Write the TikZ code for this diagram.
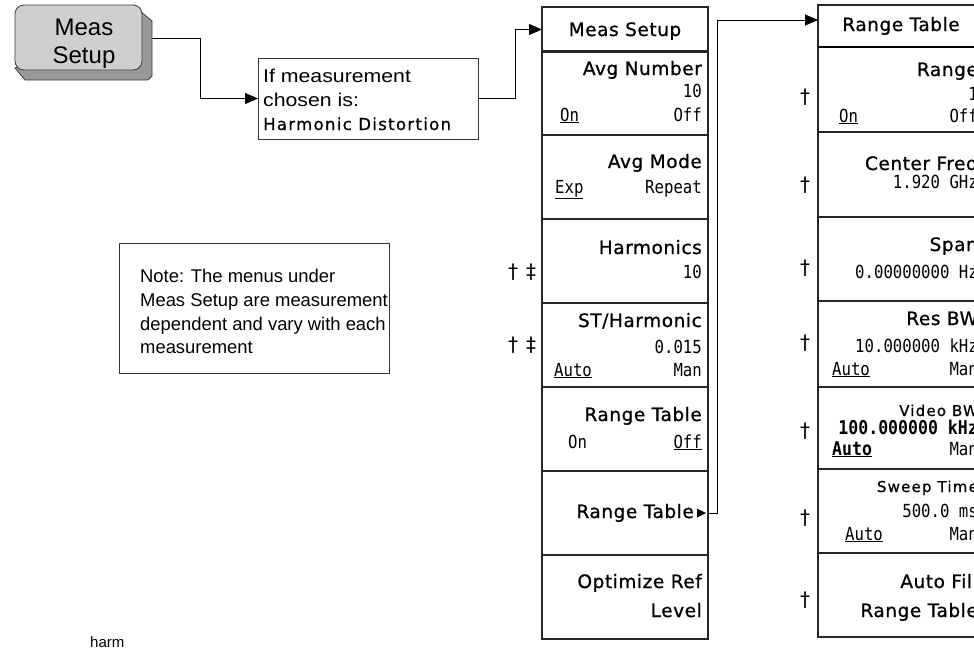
\documentclass[tikz,border=0pt]{standalone}
\usepackage{fontspec}
\setmainfont{Liberation Sans}
\newfontfamily\keyfont[LetterSpace=3,FakeBold=0.8]{DejaVu Sans}
\newfontfamily\keyfontW[LetterSpace=8,FakeBold=0.8]{DejaVu Sans}
\newfontfamily\valfont[FakeStretch=0.87]{DejaVu Sans Mono}
\newfontfamily\ifont[FakeStretch=1.15]{Liberation Sans}
\newfontfamily\dagfont{DejaVu Sans}
\usetikzlibrary{arrows.meta}
\newcommand\fKey{\keyfont\fontsize{18.5}{18.5}\selectfont}
\newcommand\fKeyS{\keyfontW\fontsize{15}{15}\selectfont}
\newcommand\fVal{\valfont\fontsize{18}{18}\selectfont}
\newcommand\fValB{\valfont\bfseries\fontsize{19}{19}\selectfont}
\begin{document}
\begin{tikzpicture}[x=1pt,y=-1pt,
  menurow/.style={draw=black!85, line width=1.2pt, minimum width=166pt, inner sep=0pt, outer sep=0pt},
  txtbox/.style={draw=black!80, line width=0.8pt, inner sep=0pt, outer sep=0pt},
  lbl/.style={font=\fKey, anchor=base east, inner sep=0pt},
  lbls/.style={font=\fKeyS, anchor=base east, inner sep=0pt},
  hdr/.style={font=\fKey, anchor=base, inner sep=0pt},
  val/.style={font=\fVal, anchor=base east, inner sep=0pt},
  valL/.style={font=\fVal, anchor=base west, inner sep=0pt},
  valb/.style={font=\fValB, anchor=base east, inner sep=0pt},
  valbL/.style={font=\fValB, anchor=base west, inner sep=0pt},
  dag/.style={font=\dagfont\fontsize{20}{20}\selectfont, anchor=center, inner sep=0pt},
  conn/.style={draw=black, line width=0.9pt},
  arr/.style={-{Triangle[length=13pt,width=11pt]}},
  plain/.style={anchor=base west, inner sep=0pt}
]
\useasboundingbox (0,0) rectangle (974,651);
\begin{scope}
\clip (0,0) rectangle (974,651);

% ---------- Meas Setup hard key ----------
\filldraw[fill=black!40, draw=black!75, line width=0.8pt]
  (133,5) -- (152,21) -- (152,76) -- (148,80) -- (25,80) -- (15,68) -- cycle;
\node[draw=black!75, fill=black!19, line width=0.8pt, rounded corners=9pt,
      minimum width=127pt, minimum height=65pt, inner sep=0pt] (btn) at (78.5,37.5) {};
\node[font=\fontsize{24}{24}\selectfont, anchor=base, inner sep=0pt] (bt1) at (84,35) {Meas};
\node[font=\fontsize{24}{24}\selectfont, anchor=base, inner sep=0pt] (bt2) at (84,63) {Setup};
\coordinate (btnout) at (152,38);

% ---------- condition box ----------
\node[txtbox, minimum width=220pt, minimum height=81pt] (ifbox) at (368,98.5) {};
\node[plain, font=\ifont\fontsize{18.5}{18.5}\selectfont] (i1) at (263,82) {If measurement};
\node[plain, font=\ifont\fontsize{18.5}{18.5}\selectfont] (i2) at (263,106) {chosen is:};
\node[plain, font=\keyfontW\fontsize{16.5}{16.5}\selectfont] (i3) at (263,130) {Harmonic Distortion};

% ---------- note box ----------
\node[txtbox, minimum width=270pt, minimum height=130pt] (note) at (254,308) {};
\node[plain, font=\fontsize{18.4}{18.4}\selectfont] (n1) at (140,282) {Note: The menus under};
\node[plain, font=\fontsize{18.4}{18.4}\selectfont] (n2) at (140,306) {Meas Setup are measurement};
\node[plain, font=\fontsize{18.4}{18.4}\selectfont] (n3) at (140,330) {dependent and vary with each};
\node[plain, font=\fontsize{18.4}{18.4}\selectfont] (n4) at (140,353) {measurement};

\node[plain, font=\fontsize{15}{15}\selectfont] (harm) at (90,647) {harm};

% ---------- Meas Setup menu ----------
\node[menurow, minimum height=45pt] (mhdr) at (625,29.5) {};
\node[menurow, minimum height=84pt] (m1) at (625,93) {};
\node[menurow, minimum height=84pt] (m2) at (625,177) {};
\node[menurow, minimum height=84pt] (m3) at (625,261) {};
\node[menurow, minimum height=84pt] (m4) at (625,345) {};
\node[menurow, minimum height=84pt] (m5) at (625,429) {};
\node[menurow, minimum height=84pt] (m6) at (625,513) {};
\node[menurow, minimum height=84pt] (m7) at (625,597) {};

\node[hdr] (t0) at (625,36) {Meas Setup};
\node[lbl] (t1) at (702,75) {Avg Number};
\node[val] (t2) at (702,97) {10};
\node[valL] (t3) at (560,121) {\underline{On}};
\node[val] (t4) at (702,121) {Off};
\node[lbl] (t5) at (702,168) {Avg Mode};
\node[valL] (t6) at (555,193) {\underline{Exp}};
\node[val] (t7) at (702,193) {Repeat};
\node[lbl] (t8) at (702,254) {Harmonics};
\node[val] (t9) at (702,278) {10};
\node[lbl] (t10) at (702,327) {ST/Harmonic};
\node[val] (t11) at (702,353) {0.015};
\node[valL] (t12) at (554,376) {\underline{Auto}};
\node[val] (t13) at (702,376) {Man};
\node[lbl] (t14) at (702,421) {Range Table};
\node[valL] (t15) at (568,448) {On};
\node[val] (t16) at (702,448) {\underline{Off}};
\node[lbl] (t17) at (694,518) {Range Table};
\fill (697,508.5) -- (706,513) -- (697,517.5) -- cycle;
\node[lbl] (t18) at (702,588) {Optimize Ref};
\node[lbl] (t19) at (702,617) {Level};

\node[dag] (d1) at (522,272) {†\hspace{8pt}‡};
\node[dag] (d2) at (522,345) {†\hspace{8pt}‡};

% ---------- Range Table menu ----------
\node[menurow, minimum height=42pt] (rhdr) at (901,26) {};
\node[menurow, minimum height=85pt] (r1b) at (901,89.5) {};
\node[menurow, minimum height=85pt] (r2b) at (901,174.5) {};
\node[menurow, minimum height=84pt] (r3b) at (901,259) {};
\node[menurow, minimum height=86pt] (r4b) at (901,344) {};
\node[menurow, minimum height=82pt] (r5b) at (901,428) {};
\node[menurow, minimum height=84pt] (r6b) at (901,511) {};
\node[menurow, minimum height=84pt] (r7b) at (901,595) {};
\draw[black, line width=2pt] (rhdr.south west) -- (rhdr.south east);

\node[hdr] (r0) at (901,31) {Range Table};
\node[lbl] (r1) at (978,76) {Range};
\node[val] (r2) at (978,100) {1};
\node[valL] (r3) at (839,122) {\underline{On}};
\node[val] (r4) at (978,122) {Off};
\node[lbl] (r5) at (978,170) {Center Freq};
\node[val] (r6) at (978,188) {1.920 GHz};
\node[lbl] (r7) at (978,251) {Span};
\node[val] (r8) at (978,278) {0.00000000 Hz};
\node[lbl] (r9) at (978,325) {Res BW};
\node[val] (r10) at (978,352) {10.000000 kHz};
\node[valL] (r11) at (832,375) {\underline{Auto}};
\node[val] (r12) at (978,375) {Man};
\node[lbls] (r13) at (978,416) {Video BW};
\node[valb] (r14) at (978,434) {100.000000 kHz};
\node[valbL] (r15) at (832,455) {\underline{Auto}};
\node[val] (r16) at (978,455) {Man};
\node[lbls] (r17) at (978,492) {Sweep Time};
\node[val] (r18) at (978,517) {500.0 ms};
\node[valL] (r19) at (845,540) {\underline{Auto}};
\node[val] (r20) at (978,540) {Man};
\node[lbl] (r21) at (978,588) {Auto Fill};
\node[lbl] (r22) at (978,617) {Range Table};

\node[dag] (rd1) at (805,97) {†};
\node[dag] (rd2) at (805,185) {†};
\node[dag] (rd3) at (805,268) {†};
\node[dag] (rd4) at (805,343) {†};
\node[dag] (rd5) at (805,431) {†};
\node[dag] (rd6) at (805,518) {†};
\node[dag] (rd7) at (805,600) {†};

% ---------- connectors ----------
\coordinate (rin) at (818,20);
\draw[conn, arr] (btnout) -- ++(48,0) |- (ifbox.west);
\draw[conn, arr] (ifbox.east) -- ++(37,0) |- (mhdr.west);
\draw[conn, arr] (m6.east) -- ++(9,0) |- (rin);
\end{scope}
\end{tikzpicture}
\end{document}
